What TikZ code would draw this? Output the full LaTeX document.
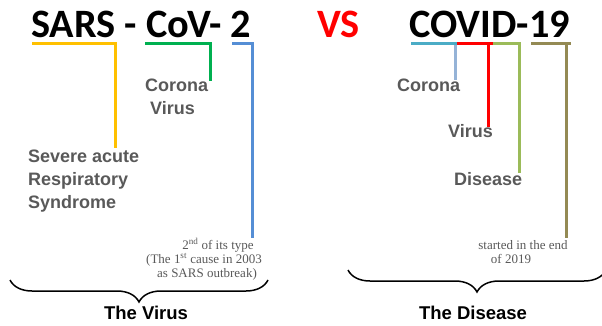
\documentclass[tikz,border=0pt]{standalone}
\usepackage{fontspec}
\setmainfont{Liberation Serif}
\newfontfamily\titlefont{Carlito}
\newfontfamily\labfont{Liberation Sans}
\usetikzlibrary{decorations.pathreplacing}
\definecolor{cyel}{HTML}{FFC000}
\definecolor{cgrn}{HTML}{00B050}
\definecolor{cblu}{HTML}{558ED5}
\definecolor{clbl}{HTML}{4BACC6}
\definecolor{cstl}{HTML}{95B3D7}
\definecolor{cred}{HTML}{FF0000}
\definecolor{clim}{HTML}{9BBB59}
\definecolor{coli}{HTML}{948A54}
\definecolor{cgry}{HTML}{595959}
\tikzset{
  title/.style={anchor=base west, inner sep=0pt, font=\titlefont\bfseries\fontsize{40.3}{44}\selectfont},
  lab/.style={anchor=base west, inner sep=0pt, text=cgry, font=\labfont\bfseries\fontsize{18}{22}\selectfont},
  note/.style={anchor=base, inner sep=0pt, text=cgry, font=\fontsize{13}{14}\selectfont},
  foot/.style={anchor=base, inner sep=0pt, font=\labfont\bfseries\fontsize{18.5}{22}\selectfont},
  bar/.style={line width=3pt, line join=miter},
  brc/.style={line width=1.5pt, decorate, decoration={brace, mirror, amplitude=22pt}}
}
\begin{document}
\begin{tikzpicture}[x=1pt, y=-1pt]
\useasboundingbox (0,0) rectangle (602,326);
% titles
\node[title] (sars) at (31,37.5) {SARS - CoV- 2};
\node[title, text=cred] (vs) at (317,37.5) {VS};
\node[title] (covid) at (409,37.5) {COVID-19};
% left labels
\node[lab] (corL) at (145,92) {Corona};
\node[lab] (virL) at (150,114) {Virus};
\node[lab] (sev) at (28,162) {Severe acute};
\node[lab] (resp) at (28,185) {Respiratory};
\node[lab] (syn) at (28,208) {Syndrome};
% right labels
\node[lab] (corR) at (397,92) {Corona};
\node[lab] (virR) at (448,138) {Virus};
\node[lab] (dis) at (454,185) {Disease};
% notes
\node[note] (n1) at (218,249) {2\textsuperscript{nd} of its type};
\node[note] (n2) at (204,263) {(The 1\textsuperscript{st} cause in 2003};
\node[note] (n3) at (207,277) {as SARS outbreak)};
\node[note] (m1) at (523,249) {started in the end};
\node[note] (m2) at (511,263) {of 2019};
% bars left
\draw[bar, cyel] (32,44) -- (115,44) -- (115,148);
\draw[bar, cgrn] (145,44) -- (210,44) -- (210,81);
\draw[bar, cblu] (232,44) -- (252,44) -- (252,238);
% bars right
\draw[bar, clbl] (411,44) -- (457,44);
\draw[bar, cstl] (455,45.5) -- (455,80);
\draw[bar, cred] (457,44) -- (493,44);
\draw[bar, cred] (488,45.5) -- (488,127);
\draw[bar, clim] (493,44) -- (519,44) -- (519,173);
\draw[bar, coli] (531,44) -- (571,44);
\draw[bar, coli] (566,45.5) -- (566,238);
% braces
\coordinate (bl1) at (10,280);
\coordinate (bl2) at (268,280);
\coordinate (br1) at (348,270);
\coordinate (br2) at (606,270);
\draw[brc] (bl1) -- (bl2);
\draw[brc] (br1) -- (br2);
\node[foot] (virus) at (146,319) {The Virus};
\node[foot] (disease) at (473,319) {The Disease};
\end{tikzpicture}
\end{document}
